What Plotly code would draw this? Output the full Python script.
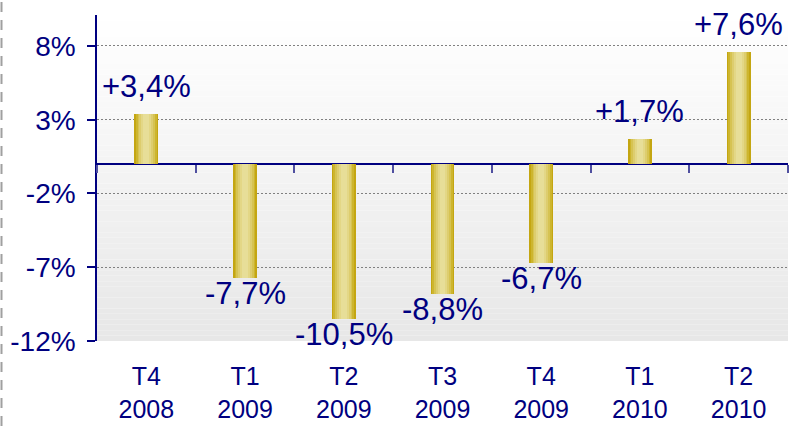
import plotly.graph_objects as go

categories = ["T4<br>2008", "T1<br>2009", "T2<br>2009", "T3<br>2009", "T4<br>2009", "T1<br>2010", "T2<br>2010"]
values = [3.4, -7.7, -10.5, -8.8, -6.7, 1.7, 7.6]
value_labels = ["+3,4%", "-7,7%", "-10,5%", "-8,8%", "-6,7%", "+1,7%", "+7,6%"]
y_tickvals = [8, 3, -2, -7, -12]
y_ticktext = ["8%", "3%", "-2%", "-7%", "-12%"]

NAVY = "#000080"
FONT = "Arial, Liberation Sans, sans-serif"
W, H = 790, 426
ML, MR, MT, MB = 97, 2, 15, 85
PW, PH = W - ML - MR, H - MT - MB
YMIN, YMAX = -12, 10.1

fig = go.Figure()

# cylinder-like gold bars: layered bars of decreasing width
layers = [(0.243, "#c4a612"), (0.21, "#cdb52e"), (0.175, "#d6c352"),
          (0.14, "#ddcd6e"), (0.10, "#e3d786"), (0.06, "#e7de98")]
for w, c in layers:
    fig.add_trace(go.Bar(x=categories, y=values, width=w, marker=dict(color=c, line=dict(width=0)),
                         hoverinfo="skip", showlegend=False, xaxis="x", yaxis="y"))

# invisible trace for tick axis at zero
fig.add_trace(go.Scatter(x=categories, y=[0] * len(categories), mode="markers",
                         marker=dict(opacity=0), xaxis="x2", yaxis="y", showlegend=False, hoverinfo="skip"))

# data labels
for cat, v, t in zip(categories, values, value_labels):
    fig.add_annotation(x=cat, y=v, text=t, showarrow=False,
                       yanchor="bottom" if v >= 0 else "top",
                       yshift=8 if v >= 0 else 4,
                       font=dict(family=FONT, size=31, color=NAVY))

# gradient background stripes
n = 60
shapes = []
for i in range(n):
    f = (i + 0.5) / n  # 0 bottom -> 1 top
    g = round(231 + (255 - 231) * f)
    col = f"rgb({g},{g},{g})"
    shapes.append(dict(type="rect", xref="paper", yref="paper", x0=0, x1=1,
                       y0=i / n, y1=(i + 1) / n, fillcolor=col, line=dict(width=0), layer="below"))
# left dashed border
shapes.append(dict(type="line", xref="paper", yref="paper",
                   x0=(1.5 - ML) / PW, x1=(1.5 - ML) / PW,
                   y0=-MB / PH, y1=1 + MT / PH,
                   line=dict(color="#a0a0a0", width=2, dash="10px,8px")))

fig.update_layout(
    width=W, height=H,
    margin=dict(l=ML, r=MR, t=MT, b=MB),
    paper_bgcolor="white", plot_bgcolor="white",
    barmode="overlay", bargap=0,
    shapes=shapes,
    showlegend=False,
    xaxis=dict(type="category", range=[-0.5, 6.5], showline=False, ticks="", showgrid=False,
               zeroline=False, tickfont=dict(family=FONT, size=25, color=NAVY),
               ticklabelstandoff=18, fixedrange=True),
    xaxis2=dict(type="category", overlaying="x", anchor="free", side="bottom",
                position=(0 - YMIN) / (YMAX - YMIN), range=[-0.5, 6.5],
                tickson="boundaries", ticks="outside", ticklen=8, tickwidth=1.5,
                tickcolor="#5050a0", showticklabels=False, showline=False, showgrid=False,
                zeroline=False, fixedrange=True),
    yaxis=dict(range=[YMIN, YMAX], tickvals=y_tickvals, ticktext=y_ticktext,
               showline=True, linecolor=NAVY, linewidth=1.5,
               ticks="outside", ticklen=8, tickcolor=NAVY, tickwidth=1.5,
               tickfont=dict(family=FONT, size=28, color=NAVY), ticklabelstandoff=6,
               showgrid=True, gridcolor="#808080", gridwidth=1, griddash="2px,2px",
               zeroline=True, zerolinecolor=NAVY, zerolinewidth=2, fixedrange=True),
)

fig.write_html("out.html", config={"displayModeBar": False},
               post_script="document.body.style.margin='0';document.body.style.overflow='hidden';")
